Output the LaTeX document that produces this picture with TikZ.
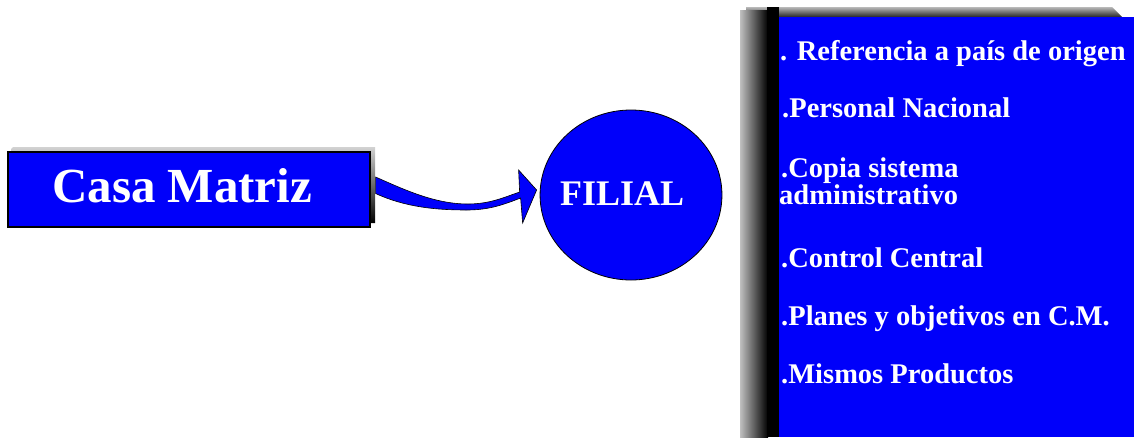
\documentclass[tikz,border=0pt]{standalone}
\usepackage{fontspec}
\setmainfont{Liberation Serif}
\newfontfamily\labelfont{Liberation Serif}
\usetikzlibrary{calc}
\definecolor{pureblue}{RGB}{0,0,250}
\tikzset{
  bluebox/.style={draw=black, line width=1.2pt, fill=pureblue, inner sep=0pt},
  whitetext/.style={text=white, inner sep=0pt, anchor=base west},
  itemtext/.style={whitetext, font=\labelfont\fontsize{28.5}{30}\selectfont\bfseries},
  blockarrow/.style={draw=black, line width=0.6pt, fill=pureblue, line join=miter}
}
\begin{document}
\begin{tikzpicture}[x=1pt, y=-1pt]
  \useasboundingbox (0,0) rectangle (1134,437);

  % --- Casa Matriz box with its drop shadow
  \shade[top color=gray!35, bottom color=black] (13,147) -- (375,147) -- (375,223) -- (11,223) -- (11,149) -- cycle;
  \node[bluebox, minimum width=362pt, minimum height=75pt] (cm) at (189,189.5) {};
  \node[whitetext, font=\labelfont\fontsize{49}{55}\selectfont\bfseries] (cmtext) at (52,202) {Casa Matriz};

  % --- FILIAL circle
  \node[draw=black, line width=0.8pt, fill=pureblue, circle, minimum size=170pt, inner sep=0pt, xscale=1.07] (fil) at (631,195) {};
  \node[whitetext, font=\labelfont\fontsize{36}{40}\selectfont\bfseries] (filtext) at (560,205) {FILIAL};

  % --- curved block arrow from Casa Matriz to FILIAL
  \coordinate (a0) at ([shift={(5,-12.5)}]cm.east);
  \coordinate (b0) at ([shift={(5,4)}]cm.east);
  \coordinate (htop) at ([shift={(-20,-3)}]fil.west);
  \coordinate (hbot) at ([shift={(-19,3)}]fil.west);
  \coordinate (btop) at ([shift={(-21,-25)}]fil.west);
  \coordinate (bbot) at ([shift={(-17,28)}]fil.west);
  \coordinate (tip) at ([shift={(-3,-5)}]fil.west);
  \path[blockarrow] (a0) .. controls (405,190) and (435,204) .. (468,204)
      .. controls (490,204) and (505,197) .. (htop)
      -- (btop) -- (tip) -- (bbot) -- (hbot)
      .. controls (505,204) and (490,210) .. (467,210)
      .. controls (435,210) and (405,207) .. (b0) -- cycle;

  % --- right panel with shadow on its left and top
  \shade[top color=gray!55, bottom color=black!85] (746,7) -- (1112,7) -- (1122,17) -- (746,17) -- cycle;
  \shade[left color=gray!50, right color=black] (740,10) rectangle (768,437);
  \fill[black] (767,7) rectangle (779,437);
  \node[fill=pureblue, inner sep=0pt, minimum width=360pt, minimum height=420pt, anchor=north west] (panel) at (779,17) {};

  \node[itemtext] (it1) at (780,60) {. Referencia a país de origen};
  \node[itemtext] (it2) at (782,117) {.Personal Nacional};
  \node[itemtext] (it3) at (781,177) {.Copia sistema};
  \node[itemtext] (it3b) at (779,204) {administrativo};
  \node[itemtext] (it4) at (781,267) {.Control Central};
  \node[itemtext] (it5) at (781,325) {.Planes y objetivos en C.M.};
  \node[itemtext] (it6) at (781,383) {.Mismos Productos};
\end{tikzpicture}
\end{document}
